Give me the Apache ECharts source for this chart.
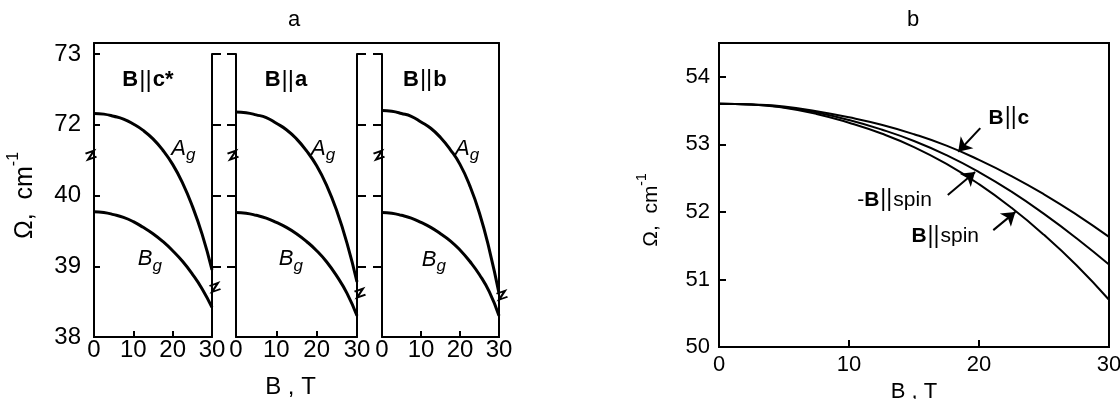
<!DOCTYPE html>
<html>
<head>
<meta charset="utf-8">
<script src="https://cdn.jsdelivr.net/npm/echarts@6/dist/echarts.min.js"></script>
<style>
  html, body { margin: 0; padding: 0; background: #fff; }
  #main { width: 1120px; height: 399px; }
</style>
</head>
<body>
<div id="main"></div>
<script>
// magnetic field, T
const fieldB = [0, 2.5, 5, 7.5, 10, 12.5, 15, 17.5, 20, 22.5, 25, 27.5, 30]

// panel a: A_g read on the upper scale (72..73), B_g on the lower one (38..40)
const agValues = [
  [72.16, 72.15, 72.12, 72.08, 72.01, 71.92, 71.80, 71.64, 71.44, 71.18, 70.85, 70.45, 69.95],
  [72.18, 72.17, 72.14, 72.10, 72.02, 71.93, 71.80, 71.63, 71.42, 71.14, 70.78, 70.33, 69.78],
  [72.20, 72.19, 72.16, 72.12, 72.04, 71.95, 71.82, 71.65, 71.44, 71.14, 70.75, 70.24, 69.62]
]
const bgValues = [
  [39.77, 39.76, 39.73, 39.69, 39.63, 39.55, 39.46, 39.35, 39.22, 39.07, 38.89, 38.68, 38.42],
  [39.76, 39.75, 39.72, 39.68, 39.62, 39.55, 39.46, 39.35, 39.22, 39.06, 38.86, 38.62, 38.30],
  [39.76, 39.75, 39.72, 39.68, 39.62, 39.55, 39.46, 39.36, 39.23, 39.07, 38.88, 38.64, 38.30]
]
const yTicksA = ['38', '39', '40', '72', '73']
const panelTitles = ['c*', 'a', 'b']
// break marks on each panel edge, lower scale
const breakLeft = [40.57, 40.57, 40.57]
const breakRight = [38.70, 38.62, 38.59]
// label anchors (B, lower scale)
const titlePos = [[13.7, 41.63], [12.4, 41.63], [11.0, 41.64]]
const agLabelPos = [[22.7, 40.63], [21.6, 40.63], [21.8, 40.63]]
const bgLabelPos = [[14.2, 39.07], [13.6, 39.07], [13.3, 39.06]]

// panel b
const bParC = [53.60, 53.59, 53.56, 53.49, 53.40, 53.29, 53.15, 52.98, 52.77, 52.53, 52.26, 51.96, 51.63]
const minusBParSpin = [53.60, 53.59, 53.55, 53.47, 53.36, 53.22, 53.05, 52.84, 52.59, 52.30, 51.97, 51.61, 51.22]
const bParSpin = [53.60, 53.59, 53.54, 53.45, 53.32, 53.16, 52.96, 52.71, 52.41, 52.06, 51.66, 51.21, 50.70]
const labelsB = ['{b|B}{p|||}{b|c}', '{n|-}{b|B}{p|||}{n|spin}', '{b|B}{p|||}{n|spin}']
const labelPosB = [[22.3, 53.39], [13.5, 52.18], [17.4, 51.64]]
const arrowsB = [
  [[20.1, 53.24], [18.4, 52.89]],
  [[17.6, 52.25], [19.7, 52.59]],
  [[21.1, 51.73], [22.8, 52.00]]
]

// upper scale is drawn shifted down so that 72 sits one step above 40
const UPPER_SHIFT = 72 - 41

const black = '#000'
const font = '"Liberation Sans", Arial, Helvetica, sans-serif'

const chart = echarts.init(document.getElementById('main'), null, { renderer: 'canvas' })

const richA = {
  b: { fontSize: 22, fontWeight: 'bold', fontFamily: font, color: black },
  p: { fontSize: 24, fontFamily: font, color: black, padding: [0, 1, 0, 1] },
  a: { fontSize: 22, fontStyle: 'italic', fontFamily: font, color: black, verticalAlign: 'top', padding: [0, 0, 4, 0] },
  s: { fontSize: 17, fontStyle: 'italic', fontFamily: font, color: black, verticalAlign: 'bottom' }
}
const richB = {
  b: { fontSize: 21, fontWeight: 'bold', fontFamily: font, color: black },
  p: { fontSize: 23, fontFamily: font, color: black, padding: [0, 1, 0, 1] },
  n: { fontSize: 21, fontFamily: font, color: black }
}

function textPoint(coord, text, rich) {
  return {
    coord: coord,
    symbol: 'circle',
    symbolSize: 1,
    itemStyle: { color: 'transparent' },
    label: { show: true, position: 'inside', formatter: text, rich: rich }
  }
}

const zigzag = 'path://M0,2 L10,0 L3,6 L13,4'
function breakPoint(coord, dx) {
  return {
    coord: coord,
    symbol: zigzag,
    symbolSize: [11, 9],
    symbolOffset: [dx, 0],
    symbolKeepAspect: false,
    itemStyle: { color: 'none', borderColor: black, borderWidth: 2 },
    label: { show: false }
  }
}

const gridsA = [
  { left: 94, top: 54, width: 118, height: 283 },
  { left: 236, top: 54, width: 121, height: 283 },
  { left: 382, top: 54, width: 117, height: 283 }
]
const grids = gridsA.concat([
  { left: 94, top: 43, width: 405, height: 294 },
  { left: 719, top: 43, width: 390, height: 304, show: true, borderColor: black, borderWidth: 2 }
]).map(g => Object.assign({ outerBoundsMode: 'none', containLabel: false }, g))

const lineStyle = { color: black, width: 2 }

const xAxes = gridsA.map((g, i) => ({
  type: 'value', gridIndex: i, min: 0, max: 30, interval: 10,
  axisLine: { show: true, onZero: false, lineStyle: lineStyle },
  axisTick: { show: true, inside: true, length: 6, lineStyle: lineStyle, customValues: [10, 20] },
  axisLabel: { color: black, fontSize: 24, fontFamily: font, margin: 1, showMinLabel: true, showMaxLabel: true },
  splitLine: { show: false }
}))
xAxes.push({
  type: 'value', gridIndex: 3, position: 'top', min: 0, max: 1,
  axisLine: { show: true, onZero: false, lineStyle: lineStyle },
  axisTick: { show: false }, axisLabel: { show: false }, splitLine: { show: false }
})
xAxes.push({
  type: 'value', gridIndex: 3, position: 'bottom', min: 0, max: 1,
  name: 'B , T', nameLocation: 'middle', nameGap: 38,
  nameTextStyle: { color: black, fontSize: 24, fontFamily: font, padding: [0, 12, 0, 0] },
  axisLine: { show: false, onZero: false }, axisTick: { show: false }, axisLabel: { show: false }, splitLine: { show: false }
})
xAxes.push({
  type: 'value', gridIndex: 4, min: 0, max: 30, interval: 10,
  name: 'B , T', nameLocation: 'middle', nameGap: 25,
  nameTextStyle: { color: black, fontSize: 22, fontFamily: font },
  axisLine: { show: true, onZero: false, lineStyle: lineStyle },
  axisTick: { show: true, inside: true, length: 7, lineStyle: lineStyle, customValues: [10, 20] },
  axisLabel: { color: black, fontSize: 22, fontFamily: font, margin: 7, showMinLabel: true, showMaxLabel: true },
  splitLine: { show: false }
})

function sideAxis(grid, position, opts) {
  return Object.assign({
    type: 'value', gridIndex: grid, position: position, min: 38, max: 42, interval: 1,
    axisLine: { show: true, onZero: false, lineStyle: lineStyle },
    axisTick: { show: true, inside: false, length: 9, lineStyle: lineStyle, customValues: [39, 40, 41, 42] },
    axisLabel: { show: false },
    splitLine: { show: false }
  }, opts)
}

const yAxes = [
  sideAxis(0, 'left', {
    axisTick: { show: true, inside: true, length: 6, lineStyle: lineStyle, customValues: [39, 40, 41, 42] },
    axisLabel: {
      show: true, color: black, fontSize: 24, fontFamily: font, margin: 13,
      formatter: v => yTicksA[v - 38]
    },
    name: '{t|Ω,  cm}{sup|-1}', nameLocation: 'middle', nameGap: 56, nameRotate: 90,
    nameTextStyle: {
      rich: {
        t: { fontSize: 25, fontFamily: font, color: black, verticalAlign: 'bottom', padding: [7, 0, 0, 0] },
        sup: { fontSize: 16, fontFamily: font, color: black, verticalAlign: 'top' }
      }
    }
  }),
  sideAxis(0, 'right'),
  sideAxis(1, 'left'),
  sideAxis(1, 'right'),
  sideAxis(2, 'left'),
  sideAxis(2, 'right', { axisTick: { show: false } }),
  { type: 'value', gridIndex: 3, position: 'left', min: 0, max: 1,
    axisLine: { show: true, onZero: false, lineStyle: lineStyle }, axisTick: { show: false }, axisLabel: { show: false }, splitLine: { show: false } },
  { type: 'value', gridIndex: 3, position: 'right', min: 0, max: 1,
    axisLine: { show: true, onZero: false, lineStyle: lineStyle }, axisTick: { show: false }, axisLabel: { show: false }, splitLine: { show: false } },
  {
    type: 'value', gridIndex: 4, min: 50, max: 54.5, interval: 1,
    axisLine: { show: true, onZero: false, lineStyle: lineStyle },
    axisTick: { show: true, inside: true, length: 7, lineStyle: lineStyle, customValues: [51, 52, 53, 54] },
    axisLabel: {
      color: black, fontSize: 22, fontFamily: font, margin: 9,
      formatter: v => (Number.isInteger(v) ? String(v) : '')
    },
    name: '{t|Ω,  cm}{sup|-1}', nameLocation: 'middle', nameGap: 57, nameRotate: 90,
    nameTextStyle: {
      padding: [0, 30, 0, 0],
      rich: {
        t: { fontSize: 21, fontFamily: font, color: black, verticalAlign: 'bottom', padding: [6, 0, 0, 0] },
        sup: { fontSize: 14, fontFamily: font, color: black, verticalAlign: 'top' }
      }
    },
    splitLine: { show: false }
  }
]

const series = []
const leftAxisOf = [0, 2, 4]
gridsA.forEach((g, i) => {
  series.push({
    type: 'line', name: 'Ag ' + i, xAxisIndex: i, yAxisIndex: leftAxisOf[i],
    data: fieldB.map((b, k) => [b, agValues[i][k] - UPPER_SHIFT]),
    smooth: 0.5, showSymbol: false, clip: false,
    lineStyle: { color: black, width: 3 },
    markPoint: {
      silent: true, animation: false,
      data: [
        textPoint(titlePos[i], '{b|B}{p|||}{b|' + panelTitles[i] + '}', richA),
        textPoint(agLabelPos[i], '{a|A}{s|g}', richA),
        breakPoint([0, breakLeft[i]], -3),
        breakPoint([30, breakRight[i]], 3)
      ]
    }
  })
  series.push({
    type: 'line', name: 'Bg ' + i, xAxisIndex: i, yAxisIndex: leftAxisOf[i],
    data: fieldB.map((b, k) => [b, bgValues[i][k]]),
    smooth: 0.5, showSymbol: false, clip: false,
    lineStyle: { color: black, width: 3 },
    markPoint: {
      silent: true, animation: false,
      data: [textPoint(bgLabelPos[i], '{a|B}{s|g}', richA)]
    }
  })
})

;[bParC, minusBParSpin, bParSpin].forEach((vals, i) => {
  series.push({
    type: 'line', name: 'b ' + i, xAxisIndex: 5, yAxisIndex: 8,
    data: fieldB.map((b, k) => [b, vals[k]]),
    smooth: 0.5, showSymbol: false,
    lineStyle: { color: black, width: 2 },
    markPoint: {
      silent: true, animation: false,
      data: [textPoint(labelPosB[i], labelsB[i], richB)]
    },
    markLine: {
      silent: true, animation: false,
      symbol: 'arrow',
      symbolSize: 12,
      lineStyle: { color: black, width: 2, type: 'solid' },
      itemStyle: { color: black },
      label: { show: false },
      data: [[
        { coord: arrowsB[i][0], symbol: 'none' },
        { coord: arrowsB[i][1], symbol: 'arrow', symbolSize: 13 }
      ]]
    }
  })
})

chart.setOption({
  animation: false,
  backgroundColor: '#fff',
  title: [
    { text: 'a', left: 283, top: 4, textStyle: { fontSize: 22, fontWeight: 'normal', fontFamily: font, color: black } },
    { text: 'b', left: 902, top: 4, textStyle: { fontSize: 22, fontWeight: 'normal', fontFamily: font, color: black } }
  ],
  grid: grids,
  xAxis: xAxes,
  yAxis: yAxes,
  series: series
})
</script>
</body>
</html>
